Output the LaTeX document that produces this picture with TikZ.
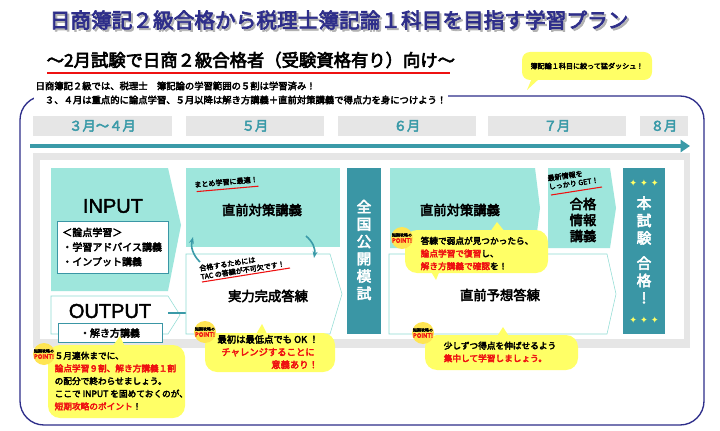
\documentclass[tikz,border=0pt]{standalone}
\usepackage{fontspec}
\setmainfont{Noto Sans CJK JP}[AutoFakeBold=3.5]
\newfontfamily\djv{DejaVu Sans}
\newfontfamily\lib{Liberation Sans}[AutoFakeBold=2]
\usetikzlibrary{arrows.meta}
\definecolor{navy}{HTML}{2E2E8A}
\definecolor{tl}{HTML}{9EE6DC}
\definecolor{tlb}{HTML}{8FDCD4}
\definecolor{dt}{HTML}{3A96A5}
\definecolor{mon}{HTML}{3A9AA8}
\definecolor{gr}{HTML}{E6E6E6}
\definecolor{yl}{HTML}{FFFF66}
\definecolor{rd}{HTML}{EE1111}
\begin{document}
\begin{tikzpicture}[x=0.75pt,y=-0.75pt,
  month/.style={fill=gr,draw=none,font=\bfseries\fontsize{10}{12}\selectfont,text=mon},
  lbl/.style={font=\bfseries\fontsize{10}{12}\selectfont},
  sm/.style={font=\bfseries\fontsize{6.3}{8.5}\selectfont,align=left},
  tiny/.style={font=\bfseries\fontsize{5.3}{6.5}\selectfont},
  bub/.style={fill=yl,draw=none,rounded corners=9},
  vt/.style={font=\bfseries\fontsize{11}{13}\selectfont,text=white,align=center},
  big/.style={font=\lib\bfseries\fontsize{15}{16}\selectfont},
  curv/.style={draw=mon,line width=1.2pt,-{Stealth[length=5pt]}}]
\useasboundingbox (0,0) rectangle (720,431);
\fill[white] (0,0) rectangle (720,431);
% title
\node[font=\bfseries\fontsize{15.5}{18}\selectfont,text=gray!60,anchor=west] at (47,22) {日商簿記２級合格から税理士簿記論１科目を目指す学習プラン};
\node[font=\bfseries\fontsize{15.5}{18}\selectfont,text=navy,anchor=west] (title) at (45,20) {日商簿記２級合格から税理士簿記論１科目を目指す学習プラン};
\node[font=\bfseries\fontsize{13}{15}\selectfont,anchor=west] (sub) at (42,60) {～2月試験で日商２級合格者（受験資格有り）向け～};
\draw[rd,line width=1.5pt] (47,73) -- (450,73);
% top bubble
\fill[yl,rounded corners=6] (522,52) rectangle (652,80);
\fill[yl] (532,78) -- (540,78) -- (527,90) -- cycle;
\node[tiny] (b0) at (587,66) {簿記論１科目に絞って猛ダッシュ！};
% frame
\draw[navy,line width=1pt,rounded corners=18] (20,96) rectangle (704,425);
\node[fill=white,sm,anchor=north west,font=\bfseries\fontsize{7}{10.5}\selectfont,inner sep=1pt] (intro) at (34,80) {日商簿記２級では、税理士　簿記論の学習範囲の５割は学習済み！\\　３、４月は重点的に論点学習、５月以降は解き方講義＋直前対策講義で得点力を身につけよう！};
% months
\node[month,minimum width=104pt,minimum height=14pt] (m1) at (102.5,126) {３月～４月};
\node[month,minimum width=103pt,minimum height=14pt] (m2) at (255,126) {５月};
\node[month,minimum width=103pt,minimum height=14pt] (m3) at (407,126) {６月};
\node[month,minimum width=103pt,minimum height=14pt] (m4) at (557,126) {７月};
\node[month,minimum width=36pt,minimum height=14pt] (m5) at (664,126) {８月};
\coordinate (a0) at (30,146); \coordinate (a1) at (690,146);
\draw[mon,line width=3pt,-{Triangle[length=7pt,width=9pt]}] (a0) -- (a1);
% panel
\fill[gr] (33,153) rectangle (690,348);
\fill[white] (40,160) rectangle (684,339);
% INPUT
\fill[tl] (51,168) -- (168,168) -- (181,225) -- (168,291) -- (51,291) -- cycle;
\node[big] (inp) at (113,206) {INPUT};
\node[draw=dt,fill=white,line width=0.6pt,minimum width=82pt,minimum height=39pt,sm,font=\bfseries\fontsize{7.5}{11}\selectfont,text width=76pt] (ib) at (113,247) {＜論点学習＞\\・学習アドバイス講義\\・インプット講義};
% OUTPUT
\draw[tlb,fill=white] (51,296) -- (168,296) -- (180,315) -- (168,334) -- (51,334) -- cycle;
\node[big] (outp) at (110,311) {OUTPUT};
\node[draw=dt,fill=white,line width=0.6pt,minimum width=78pt,minimum height=14pt,font=\bfseries\fontsize{7.5}{9}\selectfont] (ob) at (110,333) {・解き方講義};
\draw[mon,line width=1pt] (168,313) -- (200,313);
% May
\fill[tl] (186,168) rectangle (340,247);
\node[lbl] (c1) at (262,210) {直前対策講義};
\draw[tlb,fill=white] (186,254) -- (330,254) -- (342,294) -- (330,334) -- (186,334) -- cycle;
\node[lbl] (j1) at (268,296) {実力完成答練};
\node[tiny,rotate=5] (mt) at (226,182) {まとめ学習に最適！};
\draw[rd,line width=0.8pt,rotate around={5:(226,182)}] (196,189) -- (258,189);
\draw[curv] (200,262) to[bend left=30] (193,237);
\draw[curv] (306,236) to[bend left=30] (314,258);
\node[tiny,rotate=9,align=left] (tac) at (242,266) {合格するためには\\TAC の答練が不可欠です！};
\draw[rd,line width=0.8pt] (202,282) -- (290,268);
% mock
\fill[dt] (347,168) rectangle (381,334);
\node[vt] (mock) at (364,250) {全\\国\\公\\開\\模\\試};
% June/July
\fill[tl] (390,168) -- (535,168) -- (540,208) -- (535,248) -- (390,248) -- cycle;
\node[lbl] (c2) at (460,210) {直前対策講義};
\fill[tl] (548,168) -- (610,168) -- (616,208) -- (610,248) -- (548,248) -- cycle;
\node[lbl,align=center,font=\bfseries\fontsize{10}{12}\selectfont] (gj) at (583,220) {合格\\情報\\講義};
\node[tiny,rotate=8,align=left] (sn) at (573,179) {最新情報を\\しっかり GET！};
\draw[rd,line width=0.8pt] (551,195) -- (602,187);
\draw[tlb,fill=white] (389,254) -- (607,254) -- (616,294) -- (607,334) -- (389,334) -- cycle;
\node[lbl] (y1) at (500,295) {直前予想答練};
% final
\fill[dt] (623,168) rectangle (665,334);
\node[vt] (fin) at (644,250) {本\\試\\験\\[6pt]合\\格\\!};
\node[text=yl,font=\djv\fontsize{7}{8}\selectfont] (s1) at (644,183) {✦ ✦ ✦};
\node[text=yl,font=\djv\fontsize{7}{8}\selectfont] (s2) at (644,320) {✦ ✦ ✦};
% bubbles
\fill[yl] (112,347) -- (120,336) -- (125,347) -- cycle;
\fill[bub] (48,345) rectangle (185,418);
\node[sm,anchor=north west,font=\bfseries\fontsize{6.5}{9.5}\selectfont] (bb1) at (50,347) {５月連休までに、\\\textcolor{rd}{論点学習９割、解き方講義１割}\\の配分で終わらせましょう。\\ここで INPUT を固めておくのが、\\\textcolor{rd}{短期攻略のポイント}！};
\fill[yl] (255,336) -- (262,324) -- (268,336) -- cycle;
\fill[bub] (205,333) rectangle (335,372);
\node[sm,align=center,font=\bfseries\fontsize{7}{9.5}\selectfont] (bb2) at (268,352) {最初は最低点でも OK ！\\\textcolor{rd}{チャレンジすることに}\\\hspace*{40pt}\textcolor{rd}{意義あり！}};
\fill[yl] (490,232) -- (497,222) -- (505,232) -- cycle;
\fill[yl] (430,270) -- (440,270) -- (436,280) -- cycle;
\fill[bub] (405,230) rectangle (548,273);
\node[sm,anchor=north west,font=\bfseries\fontsize{6.5}{9.5}\selectfont] (bb3) at (416,232) {答練で弱点が見つかったら、\\\textcolor{rd}{論点学習で復習}し、\\\textcolor{rd}{解き方講義で確認}を！};
\fill[yl] (496,338) -- (503,327) -- (510,338) -- cycle;
\fill[bub] (425,335) rectangle (578,370);
\node[sm,align=left,font=\bfseries\fontsize{6.5}{9.5}\selectfont] (bb4) at (500,352) {少しずつ得点を伸ばせるよう\\\textcolor{rd}{集中して学習しましょう。}};
% POINT badges
\foreach \n/\px/\py in {p1/44/354,p2/205/332,p3/402/238,p4/423/333}{
  \fill[yl!80!orange] (\px,\py) circle (11);
  \node[align=center,inner sep=0pt,font=\bfseries\fontsize{3}{3.6}\selectfont] (\n) at (\px,\py) {短期攻略の\\\textcolor{rd}{\fontsize{4.5}{5}\selectfont POINT!}};
}
\end{tikzpicture}
\end{document}
